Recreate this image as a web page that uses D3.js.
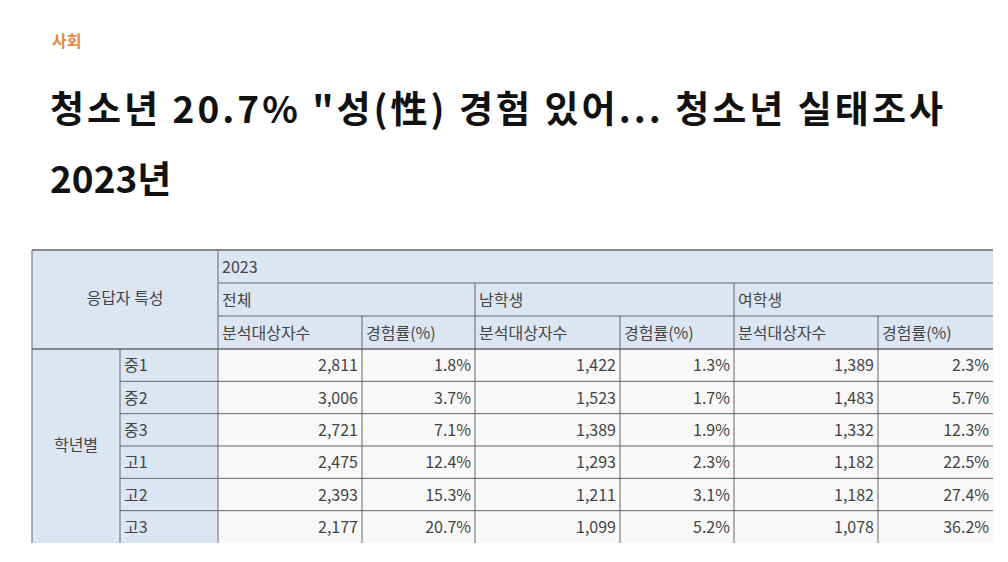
<!DOCTYPE html>
<html><head><meta charset="utf-8">
<script src="https://cdn.jsdelivr.net/npm/d3@7"></script>
<style>body{margin:0;background:#fff;font-family:"Noto Sans CJK KR","Noto Sans",sans-serif}</style>
</head><body><svg id="c" width="1008" height="562"></svg>
<script>
// table values
const grades = ["중1", "중2", "중3", "고1", "고2", "고3"];
const totalN = [2811, 3006, 2721, 2475, 2393, 2177];
const totalRate = [1.8, 3.7, 7.1, 12.4, 15.3, 20.7];
const maleN = [1422, 1523, 1389, 1293, 1211, 1099];
const maleRate = [1.3, 1.7, 1.9, 2.3, 3.1, 5.2];
const femaleN = [1389, 1483, 1332, 1182, 1182, 1078];
const femaleRate = [2.3, 5.7, 12.3, 22.5, 27.4, 36.2];
const groups = ["전체", "남학생", "여학생"];
const subHeads = ["분석대상자수", "경험률(%)"];

const svg = d3.select("#c");
svg.append("text").attr("x", 52).attr("y", 47).attr("fill", "#e8873a")
    .attr("font-size", 16).attr("font-weight", 700).text("사회");
const title = ["청소년 20.7% \"성(性) 경험 있어... 청소년 실태조사", "2023년"];
svg.selectAll("text.t").data(title).enter().append("text").attr("class", "t")
    .attr("x", 50).attr("y", (d, i) => 123 + i * 70)
    .attr("font-size", 37).attr("font-weight", 700).attr("fill", "#111")
    .attr("textLength", (d, i) => i ? null : 893).attr("lengthAdjust", "spacing")
    .text(d => d);

// column edges
const colX = [32, 120, 218, 362, 475, 620, 734, 878, 993];
const rowY = d3.scaleBand().domain(grades).range([349, 543]);
const hFill = "#dce6f2", line = "#666", fs = 16;
const g = svg.append("g");

// header backgrounds
g.append("rect").attr("x", colX[0]).attr("y", 250).attr("width", colX[8] - colX[0]).attr("height", 99).attr("fill", hFill);
g.append("rect").attr("x", colX[0]).attr("y", 349).attr("width", colX[2] - colX[0]).attr("height", 194).attr("fill", hFill);
g.append("rect").attr("x", colX[2]).attr("y", 349).attr("width", colX[8] - colX[2]).attr("height", 194).attr("fill", "#f8f8f8");

const txt = (x, y, s, anchor) => g.append("text").attr("x", x).attr("y", y)
    .attr("font-size", fs).attr("fill", "#444").attr("text-anchor", anchor || "start").text(s);

txt((colX[0] + colX[2]) / 2, 304, "응답자 특성", "middle");
txt(colX[2] + 4, 273, "2023");
groups.forEach((s, i) => txt(colX[2 + i * 2] + 4, 306, s));
for (let i = 0; i < 6; i++) txt(colX[2 + i] + 4, 339, subHeads[i % 2]);
txt((colX[0] + colX[1]) / 2, 451, "학년별", "middle");

const cols = [totalN, totalRate, maleN, maleRate, femaleN, femaleRate];
const fmt = d3.format(",");
grades.forEach((gr, r) => {
    const y = rowY(gr) + rowY.bandwidth() / 2 + 6;
    txt(colX[1] + 4, y, gr);
    cols.forEach((arr, c) => txt(colX[3 + c] - 4, y, c % 2 ? arr[r].toFixed(1) + "%" : fmt(arr[r]), "end"));
});

// grid lines
const L = (x1, y1, x2, y2, w) => g.append("line").attr("x1", x1).attr("y1", y1).attr("x2", x2).attr("y2", y2)
    .attr("stroke", line).attr("stroke-width", w || 1);
L(colX[0], 250, colX[8], 250, 1.5);
L(colX[2], 283, colX[8], 283);
L(colX[2], 316, colX[8], 316);
L(colX[0], 349, colX[8], 349, 1.5);
grades.slice(1).forEach(gr => L(colX[1], rowY(gr), colX[8], rowY(gr)));
L(colX[0], 250, colX[0], 543);
L(colX[2], 250, colX[2], 543);
[4, 6].forEach(i => L(colX[i], 283, colX[i], 543));
[3, 5, 7].forEach(i => L(colX[i], 316, colX[i], 543));
L(colX[1], 349, colX[1], 543);
</script></body></html>
